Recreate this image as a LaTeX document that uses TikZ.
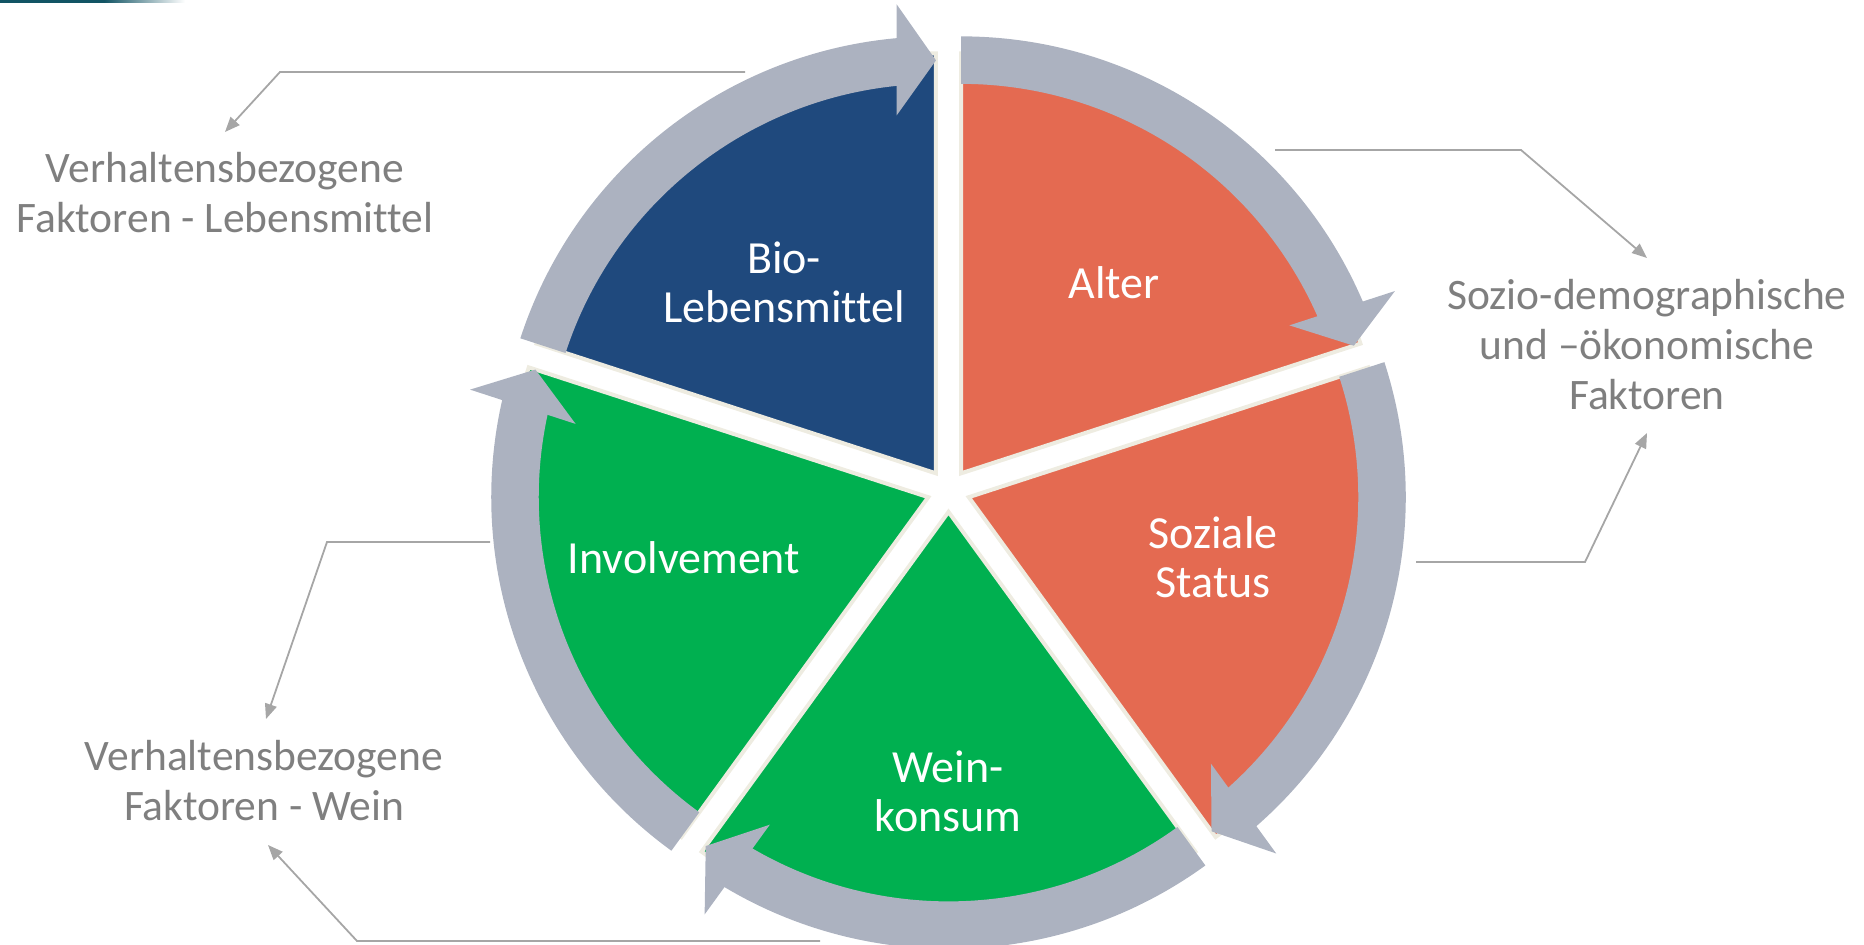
\documentclass[tikz,border=0pt]{standalone}
\usepackage{fontspec}
\setmainfont{Carlito}[Ligatures=NoCommon]
\usetikzlibrary{calc,arrows.meta}

\definecolor{bioblue}{RGB}{31,73,125}
\definecolor{segorange}{RGB}{228,106,81}
\definecolor{seggreen}{RGB}{0,176,80}
\definecolor{ringgray}{RGB}{172,178,192}
\definecolor{rimcream}{RGB}{238,236,225}
\definecolor{labelgray}{RGB}{127,127,127}
\definecolor{leadgray}{RGB}{166,166,166}
\definecolor{headteal}{RGB}{18,84,100}

\tikzset{
  segment/.style={draw=rimcream, line width=2pt, line join=miter},
  cyclearrow/.style={fill=ringgray},
  % multi-line nodes: the base anchor sits on the baseline of the last line
  inlabel/.style={text=white, font=\fontsize{23}{24.5}\selectfont, align=center, inner sep=0pt, anchor=base},
  outlabel/.style={text=labelgray, font=\fontsize{21.75}{25}\selectfont, align=center, inner sep=0pt, anchor=base},
  leader/.style={draw=leadgray, line width=0.9pt, -{Triangle[length=7.5pt,width=6pt]}},
}

\begin{document}
\begin{tikzpicture}[x=0.5pt,y=0.5pt]
  \useasboundingbox (0,0) rectangle (1864,-945);

  % header accent in the top left corner
  \fill[headteal] (0,0) rectangle (105,-3);
  \shade[left color=headteal, right color=white] (104,0) rectangle (185,-3);

  % centre of the exploded pie
  \coordinate (C) at (948.5,-490.6);

  % segments: bisector / tail angle / head angle / colour / name
  \foreach \bis/\ts/\te/\col/\nm in {126/162/90/bioblue/bio, 54/90/18/segorange/alter,
      -18/18/-54/segorange/status, -90/-54/-126/seggreen/wein, 198/234/162/seggreen/inv} {
    \coordinate (apex-\nm) at ($(C)+(\bis:21.3)$);
    \path[segment, fill=\col] (apex-\nm) -- ($(apex-\nm)+(\ts:420)$)
      arc[start angle=\ts, end angle=\te, radius=420] -- cycle;
  }

  % curved arrows running clockwise round each segment
  \foreach \ts/\te/\nm in {162/90/bio, 90/18/alter, 18/-54/status, -54/-126/wein, 234/162/inv} {
    \fill[cyclearrow] ($(apex-\nm)+(\ts:437)$)
      arc[start angle=\ts, end angle=\te+4.5, radius=437]
      -- ($(apex-\nm)+(\te+4.5:389.5)$)
      arc[start angle=\te+4.5, end angle=\ts, radius=389.5] -- cycle;
    \fill[cyclearrow] ($(apex-\nm)+(\te:413)$)
      -- ($(apex-\nm)+(\te:469)+(\te+90:39.3)$)
      -- ($(apex-\nm)+(\te:358)+(\te+90:39.3)$) -- cycle;
  }

  % segment labels
  \node[inlabel] (bioL)    at (784,-323)  {Bio-\\Lebensmittel};
  \node[inlabel] (alterL)  at (1114,-299) {Alter};
  \node[inlabel] (statusL) at (1213,-598) {Soziale\\Status};
  \node[inlabel] (invL)    at (684,-574)  {Involvement};
  \node[inlabel] (weinL)   at (948,-832)  {Wein-\\konsum};

  % factor groups
  \node[outlabel] (foodF)  at (225,-233)  {Verhaltensbezogene\\Faktoren - Lebensmittel};
  \node[outlabel] (socioF) at (1647,-410) {Sozio-demographische\\und –ökonomische\\Faktoren};
  \node[outlabel] (wineF)  at (264,-821)  {Verhaltensbezogene\\Faktoren - Wein};

  % leader lines
  \coordinate (l1a) at (745,-72);   \coordinate (l1b) at (280,-72);   \coordinate (l1c) at (225,-132);
  \coordinate (l2a) at (1275,-150); \coordinate (l2b) at (1521,-150); \coordinate (l2c) at (1647,-258);
  \coordinate (l3a) at (1416,-562); \coordinate (l3b) at (1585,-562); \coordinate (l3c) at (1647,-433);
  \coordinate (l4a) at (490,-542);  \coordinate (l4b) at (327,-542);  \coordinate (l4c) at (266,-719);
  \coordinate (l5a) at (820,-941);  \coordinate (l5b) at (357,-941);  \coordinate (l5c) at (268,-845);
  \draw[leader] (l1a) -- (l1b) -- (l1c);
  \draw[leader] (l2a) -- (l2b) -- (l2c);
  \draw[leader] (l3a) -- (l3b) -- (l3c);
  \draw[leader] (l4a) -- (l4b) -- (l4c);
  \draw[leader] (l5a) -- (l5b) -- (l5c);
\end{tikzpicture}
\end{document}
